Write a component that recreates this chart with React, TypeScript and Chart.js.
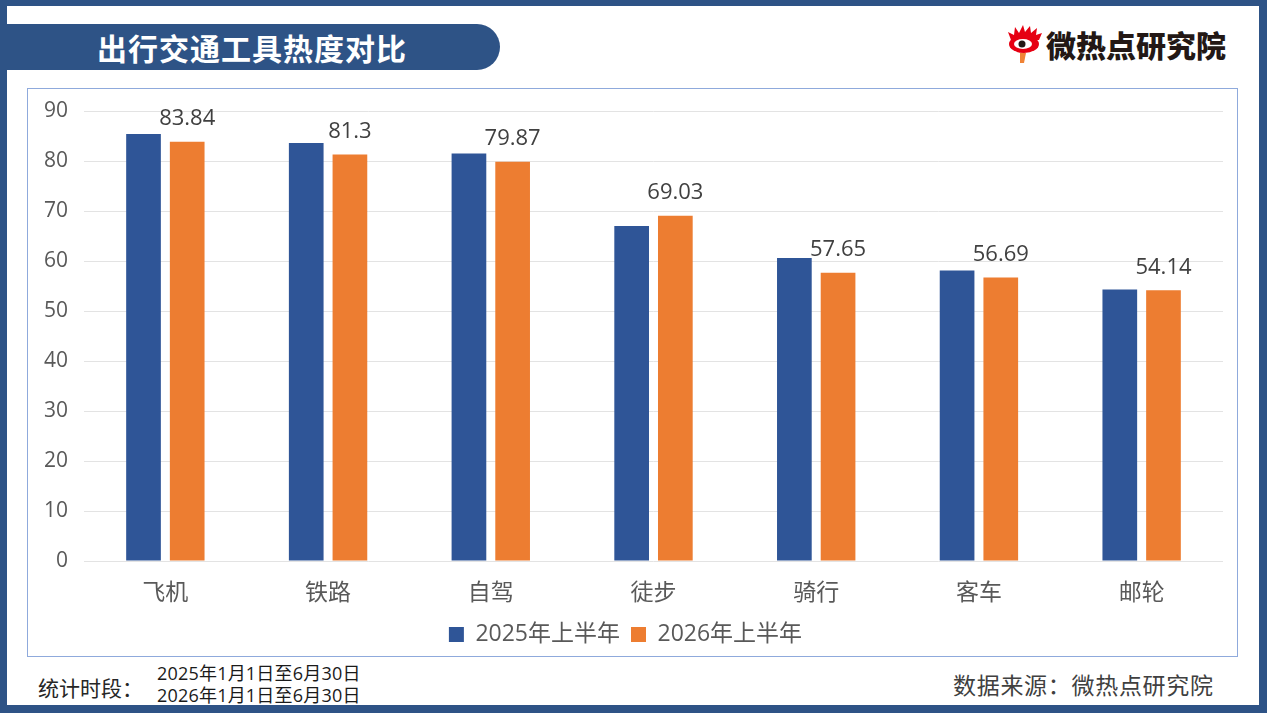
import React, { useEffect, useRef } from "react";
import { Chart, registerables } from "chart.js";

Chart.register(...registerables);

const categories = ["飞机", "铁路", "自驾", "徒步", "骑行", "客车", "邮轮"];
const series2025 = [85.4, 83.6, 81.5, 67.0, 60.6, 58.1, 54.3];
const series2026 = [83.84, 81.3, 79.87, 69.03, 57.65, 56.69, 54.14];
const seriesNames = ["2025年上半年", "2026年上半年"];
const yTicks = [0, 10, 20, 30, 40, 50, 60, 70, 80, 90];

const FONT = "'Open Sans', 'Noto Sans CJK SC', sans-serif";
const FRAME = "#2E5386";

const labelPlugin = {
  id: "valueLabels",
  afterDatasetsDraw(chart: any) {
    const ctx = chart.ctx;
    const meta = chart.getDatasetMeta(1);
    ctx.save();
    ctx.font = `22px ${FONT}`;
    ctx.fillStyle = "#404040";
    ctx.textAlign = "center";
    ctx.textBaseline = "middle";
    meta.data.forEach((bar: any, i: number) => {
      ctx.fillText(String(series2026[i]), bar.x, bar.y - 23);
    });
    ctx.restore();
  },
};

function BarChart() {
  const ref = useRef<HTMLCanvasElement | null>(null);
  useEffect(() => {
    if (!ref.current) return;
    const chart = new Chart(ref.current, {
      type: "bar",
      data: {
        labels: categories,
        datasets: [
          {
            label: seriesNames[0],
            data: series2025,
            backgroundColor: "#2F5597",
            borderWidth: 0,
            categoryPercentage: 0.537,
            barPercentage: 0.794,
          },
          {
            label: seriesNames[1],
            data: series2026,
            backgroundColor: "#ED7D31",
            borderWidth: 0,
            categoryPercentage: 0.537,
            barPercentage: 0.794,
          },
        ],
      },
      options: {
        animation: false,
        responsive: false,
        maintainAspectRatio: false,
        layout: { padding: { left: 0, right: 14, top: 22, bottom: 0 } },
        plugins: {
          legend: {
            position: "bottom",
            labels: {
              boxWidth: 15,
              boxHeight: 15,
              padding: 11,
              color: "#595959",
              font: { size: 23, family: FONT },
            },
          },
          tooltip: { enabled: false },
        },
        scales: {
          x: {
            grid: { display: false, drawTicks: false },
            border: { display: false },
            ticks: {
              color: "#595959",
              font: { size: 23, family: FONT },
              padding: 19,
            },
            afterFit(scale: any) {
              scale.height = 51;
              scale.paddingLeft = 0;
              scale.paddingRight = 0;
            },
          },
          y: {
            min: 0,
            max: 90,
            afterBuildTicks(scale: any) {
              scale.ticks = yTicks.map((v) => ({ value: v }));
            },
            grid: { color: "#E3E3E3", lineWidth: 1, drawTicks: false },
            border: { display: false },
            ticks: {
              color: "#595959",
              font: { size: 21, family: FONT },
              padding: 16,
            },
            afterFit(scale: any) {
              scale.width = 56;
              scale.paddingTop = 0;
              scale.paddingBottom = 0;
            },
          },
        },
      },
      plugins: [labelPlugin],
    });
    return () => chart.destroy();
  }, []);
  return <canvas ref={ref} width={1209} height={567} style={{ display: "block", width: 1209, height: 567 }} />;
}

function Logo() {
  return (
    <svg width="38" height="40" viewBox="0 0 38 40" style={{ position: "absolute", left: 1007, top: 24 }}>
      <path d="M4 16 L1 8 L7 11 L8 3 L12 9 L16 1 L18 8 L23 2 L24 9 L30 4 L29 11 L35 9 L32 16 Z" fill="#E60012" />
      <ellipse cx="17" cy="20" rx="15" ry="9" fill="#E60012" />
      <ellipse cx="16" cy="20" rx="9" ry="5" fill="#ffffff" />
      <circle cx="15" cy="20" r="3.5" fill="#231815" />
      <path d="M13 29 L19 29 L17 39 L13 39 Z" fill="#F08336" />
    </svg>
  );
}

export default function App() {
  return (
    <div style={{ position: "fixed", left: 0, top: 0, width: 1267, height: 713, background: FRAME, fontFamily: FONT, overflow: "hidden" }}>
      <div style={{ position: "absolute", left: 7, top: 6, width: 1252, height: 699, background: "#ffffff" }} />
      <div
        style={{
          position: "absolute",
          left: 7,
          top: 24,
          width: 493,
          height: 46,
          background: FRAME,
          borderRadius: "0 23px 23px 0",
          color: "#ffffff",
          fontWeight: 700,
          fontSize: 30,
          lineHeight: "46px",
          boxSizing: "border-box",
          paddingLeft: 90,
          letterSpacing: 1,
          fontFamily: "'Noto Sans CJK SC', sans-serif",
        }}
      >
        出行交通工具热度对比
      </div>
      <Logo />
      <div style={{ position: "absolute", left: 1046, top: 24, fontSize: 30, fontWeight: 900, color: "#231815", lineHeight: "40px", fontFamily: "'Noto Sans CJK SC', sans-serif" }}>
        微热点研究院
      </div>
      <div
        style={{
          position: "absolute",
          left: 27,
          top: 88,
          width: 1211,
          height: 569,
          border: "1px solid #8FAADC",
          boxSizing: "border-box",
          background: "#ffffff",
        }}
      >
        <BarChart />
      </div>
      <div style={{ position: "absolute", left: 38, top: 673, fontSize: 21, color: "#262626", lineHeight: "30px" }}>统计时段：</div>
      <div style={{ position: "absolute", left: 157, top: 662, fontSize: 18, color: "#1a1a1a", lineHeight: "22px", letterSpacing: 0.2 }}>
        <div>2025年1月1日至6月30日</div>
        <div>2026年1月1日至6月30日</div>
      </div>
      <div style={{ position: "absolute", left: 953, top: 670, fontSize: 23, color: "#404040", lineHeight: "30px", whiteSpace: "pre", letterSpacing: 0.7 }}>
        数据来源：微热点研究院
      </div>
    </div>
  );
}
